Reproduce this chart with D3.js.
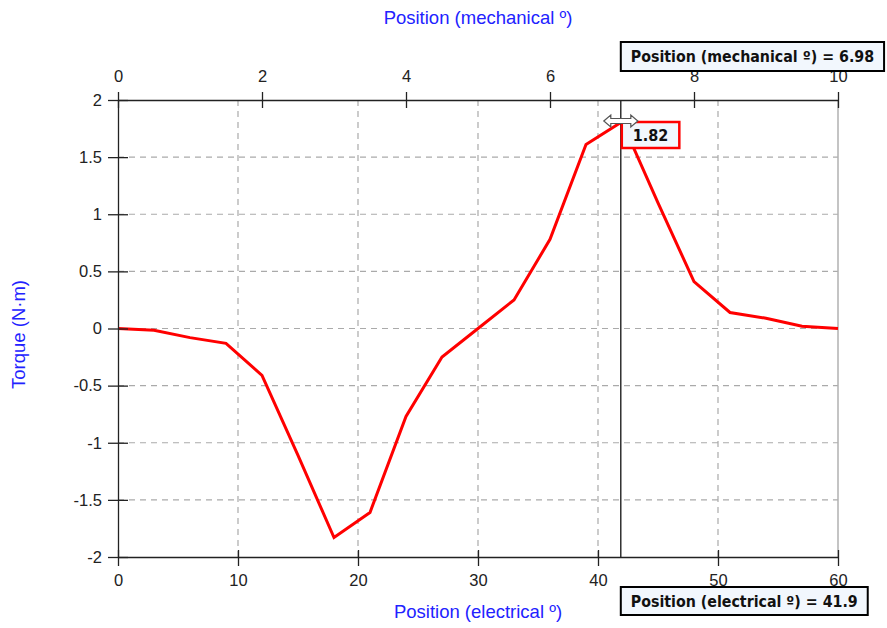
<!DOCTYPE html>
<html>
<head>
<meta charset="utf-8">
<script src="https://cdn.jsdelivr.net/npm/d3@7"></script>
<style>
  html, body { margin: 0; padding: 0; background: #ffffff; }
  svg { display: block; }
</style>
</head>
<body>
<svg id="chart" width="887" height="628"></svg>
<script>
// ---- data ----
const electricalDeg = [0, 3, 6, 9, 12, 15, 18, 21, 24, 27, 30, 33, 36, 39, 42, 45, 48, 51, 54, 57, 60];
const torqueNm      = [0, -0.015, -0.08, -0.13, -0.41, -1.11, -1.83, -1.61, -0.77, -0.25, 0.0, 0.25, 0.78, 1.61, 1.81, 1.10, 0.41, 0.14, 0.09, 0.02, 0.0];
const torqueTicks     = [-2, -1.5, -1, -0.5, 0, 0.5, 1, 1.5, 2];
const electricalTicks = [0, 10, 20, 30, 40, 50, 60];
const mechanicalTicks = [0, 2, 4, 6, 8, 10];
const cursorElectrical = 41.9;
const cursorMechanical = 6.98;
const cursorTorque = 1.82;
const titleTop = "Position (mechanical º)";
const titleBottom = "Position (electrical º)";
const titleLeft = "Torque (N·m)";

// ---- layout ----
const svg = d3.select("#chart");
const plot = { left: 118, right: 838, top: 100, bottom: 557 };
const x = d3.scaleLinear().domain([0, 60]).range([plot.left, plot.right]);
const xMech = d3.scaleLinear().domain([0, 10]).range([plot.left, plot.right]);
const y = d3.scaleLinear().domain([-2, 2]).range([plot.bottom, plot.top]);

const blue = "#2222ff";
const tickFont = "Liberation Sans, Arial, sans-serif";
const fmt = d => String(d);

// grid
const grid = svg.append("g");
grid.selectAll("line.v").data(electricalTicks.filter(d => d > 0 && d < 60)).enter()
  .append("line")
  .attr("x1", d => x(d)).attr("x2", d => x(d))
  .attr("y1", plot.top).attr("y2", plot.bottom)
  .attr("stroke", "#aaaaaa").attr("stroke-width", 1.2).attr("stroke-dasharray", "6,5");
grid.selectAll("line.h").data(torqueTicks.filter(d => d > -2 && d < 2)).enter()
  .append("line")
  .attr("x1", plot.left).attr("x2", plot.right)
  .attr("y1", d => y(d)).attr("y2", d => y(d))
  .attr("stroke", "#aaaaaa").attr("stroke-width", 1.2).attr("stroke-dasharray", "6,5");

// right border
svg.append("line")
  .attr("x1", plot.right).attr("x2", plot.right)
  .attr("y1", plot.top).attr("y2", plot.bottom)
  .attr("stroke", "#b0b0b0").attr("stroke-width", 1.5);

// data line
const line = d3.line().x((d, i) => x(electricalDeg[i])).y(d => y(d));
svg.append("path")
  .datum(torqueNm)
  .attr("d", line)
  .attr("fill", "none")
  .attr("stroke", "#ff0000")
  .attr("stroke-width", 3)
  .attr("stroke-linejoin", "miter");

// cursor line
svg.append("line")
  .attr("x1", x(cursorElectrical)).attr("x2", x(cursorElectrical))
  .attr("y1", plot.top).attr("y2", plot.bottom)
  .attr("stroke", "#111").attr("stroke-width", 1.3);

function styleAxis(g) {
  g.select(".domain").attr("stroke", "#222").attr("stroke-width", 1.3);
  g.selectAll(".tick line").attr("stroke", "#222").attr("stroke-width", 1.3);
  g.selectAll(".tick text").attr("fill", "#222").style("font-family", tickFont).style("font-size", "16.5px");
}

// bottom axis
const gB = svg.append("g").attr("transform", `translate(0,${plot.bottom})`)
  .call(d3.axisBottom(x).tickValues(electricalTicks).tickFormat(fmt).tickSize(9).tickSizeOuter(0).tickPadding(8));
gB.selectAll(".tick line").attr("y1", -7);
styleAxis(gB);

// top axis
const gT = svg.append("g").attr("transform", `translate(0,${plot.top})`)
  .call(d3.axisTop(xMech).tickValues(mechanicalTicks).tickFormat(fmt).tickSize(8).tickSizeOuter(0).tickPadding(10));
gT.selectAll(".tick line").attr("y1", 8);
styleAxis(gT);

// left axis
const gL = svg.append("g").attr("transform", `translate(${plot.left},0)`)
  .call(d3.axisLeft(y).tickValues(torqueTicks).tickFormat(fmt).tickSize(10).tickSizeOuter(0).tickPadding(6));
gL.selectAll(".tick line").attr("x1", 10);
styleAxis(gL);

// axis titles
svg.append("text").text(titleTop)
  .attr("x", (plot.left + plot.right) / 2).attr("y", 24)
  .attr("text-anchor", "middle").attr("fill", blue)
  .style("font-family", tickFont).style("font-size", "18.5px");
svg.append("text").text(titleBottom)
  .attr("x", (plot.left + plot.right) / 2).attr("y", 618)
  .attr("text-anchor", "middle").attr("fill", blue)
  .style("font-family", tickFont).style("font-size", "18.5px");
svg.append("text").text(titleLeft)
  .attr("transform", `translate(25,${(plot.top + plot.bottom) / 2 + 6}) rotate(-90)`)
  .attr("text-anchor", "middle").attr("fill", blue)
  .style("font-family", tickFont).style("font-size", "18.5px");

// info boxes
const boxFont = "DejaVu Sans Condensed, DejaVu Sans, sans-serif";
function infoBox(label, top, height, stroke, fontSize, strokeW) {
  const g = svg.append("g");
  const rect = g.append("rect");
  const t = g.append("text").text(label)
    .attr("fill", "#111")
    .style("font-family", boxFont).style("font-weight", "bold").style("font-size", fontSize + "px");
  const w = t.node().getComputedTextLength();
  const left = x(cursorElectrical);
  rect.attr("x", left).attr("y", top).attr("width", w + 20).attr("height", height)
    .attr("fill", "#f2f7fd").attr("stroke", stroke).attr("stroke-width", strokeW);
  t.attr("x", left + 10).attr("y", top + height / 2 + fontSize * 0.36);
  return g;
}
infoBox(`${titleTop} = ${cursorMechanical}`, 42, 29, "#000", 15.8, 2);
infoBox(`${titleBottom} = ${cursorElectrical}`, 587, 28, "#000", 15.8, 2);

// value tooltip
const tip = svg.append("g");
const tipRect = tip.append("rect");
const tipText = tip.append("text").text(String(cursorTorque))
  .attr("fill", "#111")
  .style("font-family", boxFont).style("font-weight", "bold").style("font-size", "16px");
const tw = tipText.node().getComputedTextLength();
const tx = x(cursorElectrical) + 1;
tipRect.attr("x", tx).attr("y", 122).attr("width", tw + 22).attr("height", 26)
  .attr("fill", "#f2f7fd").attr("stroke", "#ff0000").attr("stroke-width", 2.5);
tipText.attr("x", tx + 11).attr("y", 141);

// resize cursor icon (double-headed arrow)
const cx = x(cursorElectrical), cy = 121;
svg.append("path")
  .attr("d", `M${cx-17},${cy} L${cx-10},${cy-6} L${cx-10},${cy-2.5} L${cx+10},${cy-2.5} L${cx+10},${cy-6} L${cx+17},${cy} L${cx+10},${cy+6} L${cx+10},${cy+2.5} L${cx-10},${cy+2.5} L${cx-10},${cy+6} Z`)
  .attr("fill", "#ffffff").attr("stroke", "#555").attr("stroke-width", 1.2);
</script>
</body>
</html>
